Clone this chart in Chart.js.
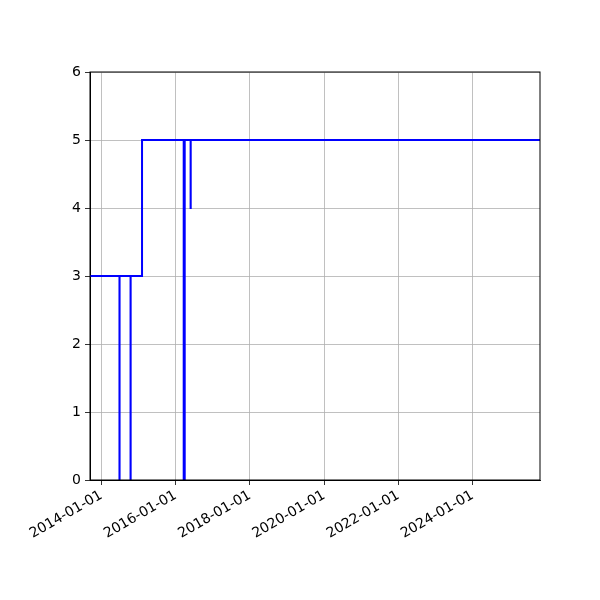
<!DOCTYPE html>
<html>
<head>
<meta charset="utf-8">
<script src="https://cdn.jsdelivr.net/npm/chart.js@4/dist/chart.umd.min.js"></script>
<style>
  html, body { margin: 0; padding: 0; background: #fff; }
  #wrap { width: 600px; height: 600px; }
</style>
</head>
<body>
<div id="wrap"><canvas id="c" width="600" height="600"></canvas></div>
<script>
  // step series: each value holds until the next date
  const stepDates = [
    "2013-09-11", "2014-06-28", "2014-06-29", "2014-10-15", "2014-10-16",
    "2015-02-05", "2016-03-21", "2016-03-31", "2016-05-28", "2016-05-29",
    "2025-10-26",
  ];
  const stepValues = [3, 0, 3, 0, 3, 5, 0, 5, 4, 5, 5];

  const xTickDates = ["2014-01-01", "2016-01-01", "2018-01-01", "2020-01-01", "2022-01-01", "2024-01-01"];
  const yTicks = [0, 1, 2, 3, 4, 5, 6];
  const xMinDate = "2013-09-11";
  const xMaxDate = "2025-10-26";

  const toMs = (s) => Date.parse(s + "T00:00:00Z");
  const fmtDate = (ms) => new Date(ms).toISOString().slice(0, 10);

  const font = { family: "DejaVu Sans", size: 14 };
  Chart.defaults.color = "#000";

  const spinePlugin = {
    id: "spines",
    afterDraw(chart) {
      const { ctx, chartArea: a } = chart;
      ctx.save();
      ctx.strokeStyle = "#000";
      ctx.lineWidth = 1;
      ctx.strokeRect(a.left, a.top, a.right - a.left, a.bottom - a.top);
      ctx.restore();
    },
  };

  new Chart(document.getElementById("c").getContext("2d"), {
    type: "line",
    data: {
      datasets: [
        {
          data: stepDates.map((d, i) => ({ x: toMs(d), y: stepValues[i] })),
          borderColor: "#0000ff",
          borderWidth: 2,
          stepped: true,
          pointRadius: 0,
          fill: false,
        },
      ],
    },
    options: {
      responsive: false,
      animation: false,
      layout: { padding: { left: 0, right: 60, top: 72, bottom: 0 } },
      plugins: { legend: { display: false }, tooltip: { enabled: false } },
      scales: {
        x: {
          type: "linear",
          min: toMs(xMinDate),
          max: toMs(xMaxDate),
          afterBuildTicks: (scale) => {
            scale.ticks = xTickDates.map((d) => ({ value: toMs(d) }));
          },
          afterFit: (scale) => {
            scale.height = 120;
            scale.paddingLeft = 0;
            scale.paddingRight = 0;
          },
          ticks: {
            callback: (v) => fmtDate(v),
            maxRotation: 30,
            minRotation: 30,
            autoSkip: false,
            padding: 2,
            font,
          },
          grid: { color: "#b0b0b0", lineWidth: 0.8, tickColor: "#000", tickLength: 5 },
          border: { color: "#000", width: 1 },
        },
        y: {
          min: 0,
          max: 6,
          afterBuildTicks: (scale) => {
            scale.ticks = yTicks.map((v) => ({ value: v }));
          },
          afterFit: (scale) => {
            scale.width = 90;
            scale.paddingTop = 0;
            scale.paddingBottom = 0;
          },
          ticks: { padding: 4, font },
          grid: { color: "#b0b0b0", lineWidth: 0.8, tickColor: "#000", tickLength: 5 },
          border: { color: "#000", width: 1 },
        },
      },
    },
    plugins: [spinePlugin],
  });
</script>
</body>
</html>
